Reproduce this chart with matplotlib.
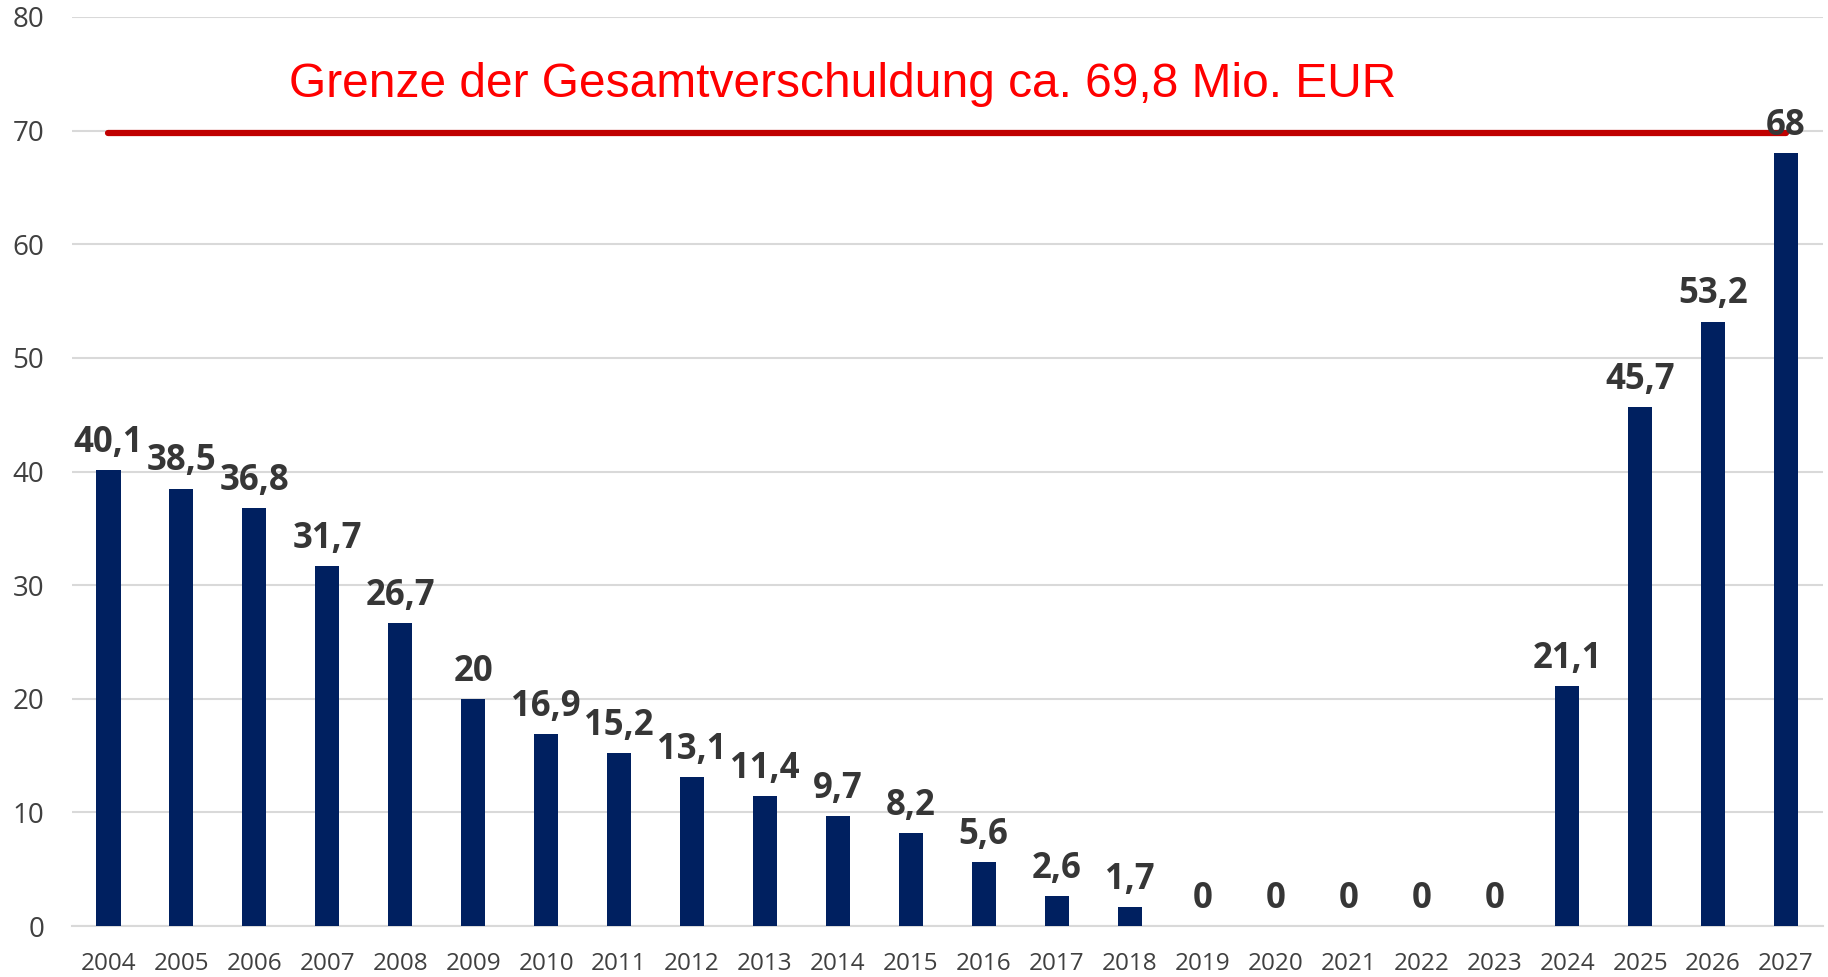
import matplotlib
matplotlib.use("Agg")
from matplotlib import pyplot as plt
import numpy

# Jahre und Schuldenstand in Mio. EUR
years = [str(y) for y in range(2004, 2028)]
debt = [40.1, 38.5, 36.8, 31.7, 26.7, 20, 16.9, 15.2, 13.1, 11.4, 9.7, 8.2,
        5.6, 2.6, 1.7, 0, 0, 0, 0, 0, 21.1, 45.7, 53.2, 68]
limit = 69.8
limit_text = "Grenze der Gesamtverschuldung ca. 69,8 Mio. EUR"


def fmt(v) -> str:
    # deutsche Schreibweise, ganze Zahlen ohne Nachkommastelle
    if float(v).is_integer():
        return str(int(v))
    return str(v).replace(".", ",")


def main() -> None:
    plt.rcParams['font.family'] = ['Open Sans', 'DejaVu Sans']
    fig = plt.figure(figsize=(18.28, 9.77), dpi=100)
    ax = fig.add_axes([0.0394, 0.0522, 0.9576, 0.9304])

    x = numpy.arange(len(years))
    ax.bar(x, debt, width=0.33, color="#002060", zorder=3)

    for xi, v in zip(x, debt):
        ax.annotate(fmt(v), (xi, v), xytext=(0, 13), textcoords="offset points",
                    ha="center", va="baseline", fontsize=25, fontweight="bold",
                    color="#363636", zorder=5)

    ax.plot([x[0], x[-1]], [limit, limit], color="#C00000", lw=4.5,
            solid_capstyle="round", zorder=4)
    ax.text(10.07, 73.0, limit_text, ha="center", va="baseline", color="#FF0000",
            fontsize=34.5, family=["Liberation Sans", "DejaVu Sans"])

    ax.set_xlim(-0.5, len(years) - 0.5)
    ax.set_ylim(0, 80)
    ax.set_yticks(range(0, 81, 10))
    ax.set_xticks(x)
    ax.set_xticklabels(years)
    ax.yaxis.grid(True, color="#d9d9d9", lw=1.5, zorder=0)
    ax.tick_params(axis="both", length=0, labelcolor="#404040")
    ax.tick_params(axis="y", pad=20, labelsize=20)
    ax.tick_params(axis="x", pad=19, labelsize=17.5)
    for s in ["top", "right", "left"]:
        ax.spines[s].set_visible(False)
    ax.spines["bottom"].set_color("#d9d9d9")
    ax.spines["bottom"].set_linewidth(1.5)

    fig.savefig("out.png", dpi=100)


if __name__ == '__main__':
    main()
